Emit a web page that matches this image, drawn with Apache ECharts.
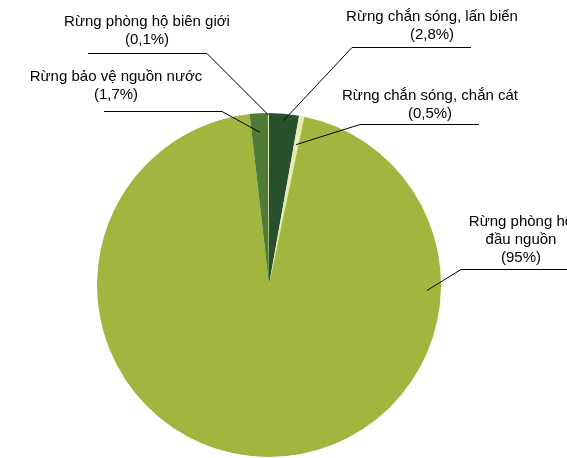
<!DOCTYPE html>
<html>
<head>
<meta charset="utf-8">
<script src="https://cdn.jsdelivr.net/npm/echarts@6/dist/echarts.min.js"></script>
<style>
  html, body { margin: 0; padding: 0; background: #ffffff; }
  #chart { width: 567px; height: 458px; }
</style>
</head>
<body>
<div id="chart"></div>
<script>
// Protection forest area by function (%)
const categories = [
  'Rừng chắn sóng, lấn biển',
  'Rừng chắn sóng, chắn cát',
  'Rừng phòng hộ đầu nguồn',
  'Rừng bảo vệ nguồn nước',
  'Rừng phòng hộ biên giới'
];
const labelLines = [
  'Rừng chắn sóng, lấn biển',
  'Rừng chắn sóng, chắn cát',
  'Rừng phòng hộ\nđầu nguồn',
  'Rừng bảo vệ nguồn nước',
  'Rừng phòng hộ biên giới'
];
const shares = [2.8, 0.5, 95, 1.7, 0.1];
const sliceColors = ['#27502d', '#e6ebb0', '#a1b53f', '#4f7b37', '#e6ebb0'];

const PIE_CENTER = [269, 285];
const PIE_RADIUS = 172;

// Callout layout: centre of the text block, leader elbow and end,
// and how deep the leader reaches into its slice.
const callouts = [
  { text: [432, 26],  elbow: [352, 47.5],  end: [471, 47.5],  depth: 7 },
  { text: [430, 105], elbow: [360, 124.5], end: [479, 124.5], depth: 29 },
  { text: [521, 240], elbow: [461, 269.5], end: [590, 269.5], depth: 14, angle: 92 },
  { text: [116, 86],  elbow: [222, 111.5], end: [104, 111.5], depth: 19 },
  { text: [147, 31],  elbow: [207, 53.5],  end: [88, 53.5],   depth: 2 }
];

const total = shares.reduce((a, b) => a + b, 0);
// mid angle of each slice, degrees clockwise from 12 o'clock
const midAngles = [];
let cum = 0;
shares.forEach(v => { midAngles.push((cum + v / 2) / total * 360); cum += v; });

function formatShare(v) {
  return '(' + String(v).replace('.', ',') + '%)';
}

function leaderStart(i) {
  const c = callouts[i];
  const a = (c.angle != null ? c.angle : midAngles[i]) * Math.PI / 180;
  const r = PIE_RADIUS - c.depth;
  return [PIE_CENTER[0] + r * Math.sin(a), PIE_CENTER[1] - r * Math.cos(a)];
}

const pieBase = {
  type: 'pie',
  center: PIE_CENTER,
  radius: PIE_RADIUS,
  startAngle: 90,
  clockwise: true,
  minAngle: 0,
  avoidLabelOverlap: false,
  emphasis: { disabled: true },
  silent: true
};

const chart = echarts.init(document.getElementById('chart'), null, { renderer: 'canvas' });

chart.setOption({
  animation: false,
  backgroundColor: '#ffffff',
  series: [
    // filled slices
    Object.assign({}, pieBase, {
      z: 2,
      itemStyle: { borderWidth: 0 },
      label: { show: false },
      labelLine: { show: false },
      data: categories.map((name, i) => ({
        name: name,
        value: shares[i],
        itemStyle: { color: sliceColors[i] }
      }))
    }),
    // callouts, kept on a layer above the slices so leaders run into them
    Object.assign({}, pieBase, {
      z: 3,
      itemStyle: { color: 'rgba(0,0,0,0)', borderWidth: 0 },
      data: categories.map((name, i) => ({ name: name, value: shares[i] })),
      label: {
        show: true,
        position: 'outside',
        formatter: p => labelLines[p.dataIndex] + '\n' + formatShare(p.value),
        fontFamily: 'Liberation Sans, Arial, sans-serif',
        fontSize: 15,
        lineHeight: 18,
        color: '#000000',
        overflow: 'none'
      },
      labelLine: {
        show: true,
        showAbove: true,
        length: 10,
        length2: 10,
        smooth: false,
        lineStyle: { color: '#000000', width: 1 }
      },
      labelLayout: function (params) {
        const i = params.dataIndex;
        const c = callouts[i];
        return {
          x: c.text[0],
          y: c.text[1],
          align: 'center',
          verticalAlign: 'middle',
          labelLinePoints: [leaderStart(i), c.elbow, c.end]
        };
      }
    })
  ]
});
</script>
</body>
</html>
